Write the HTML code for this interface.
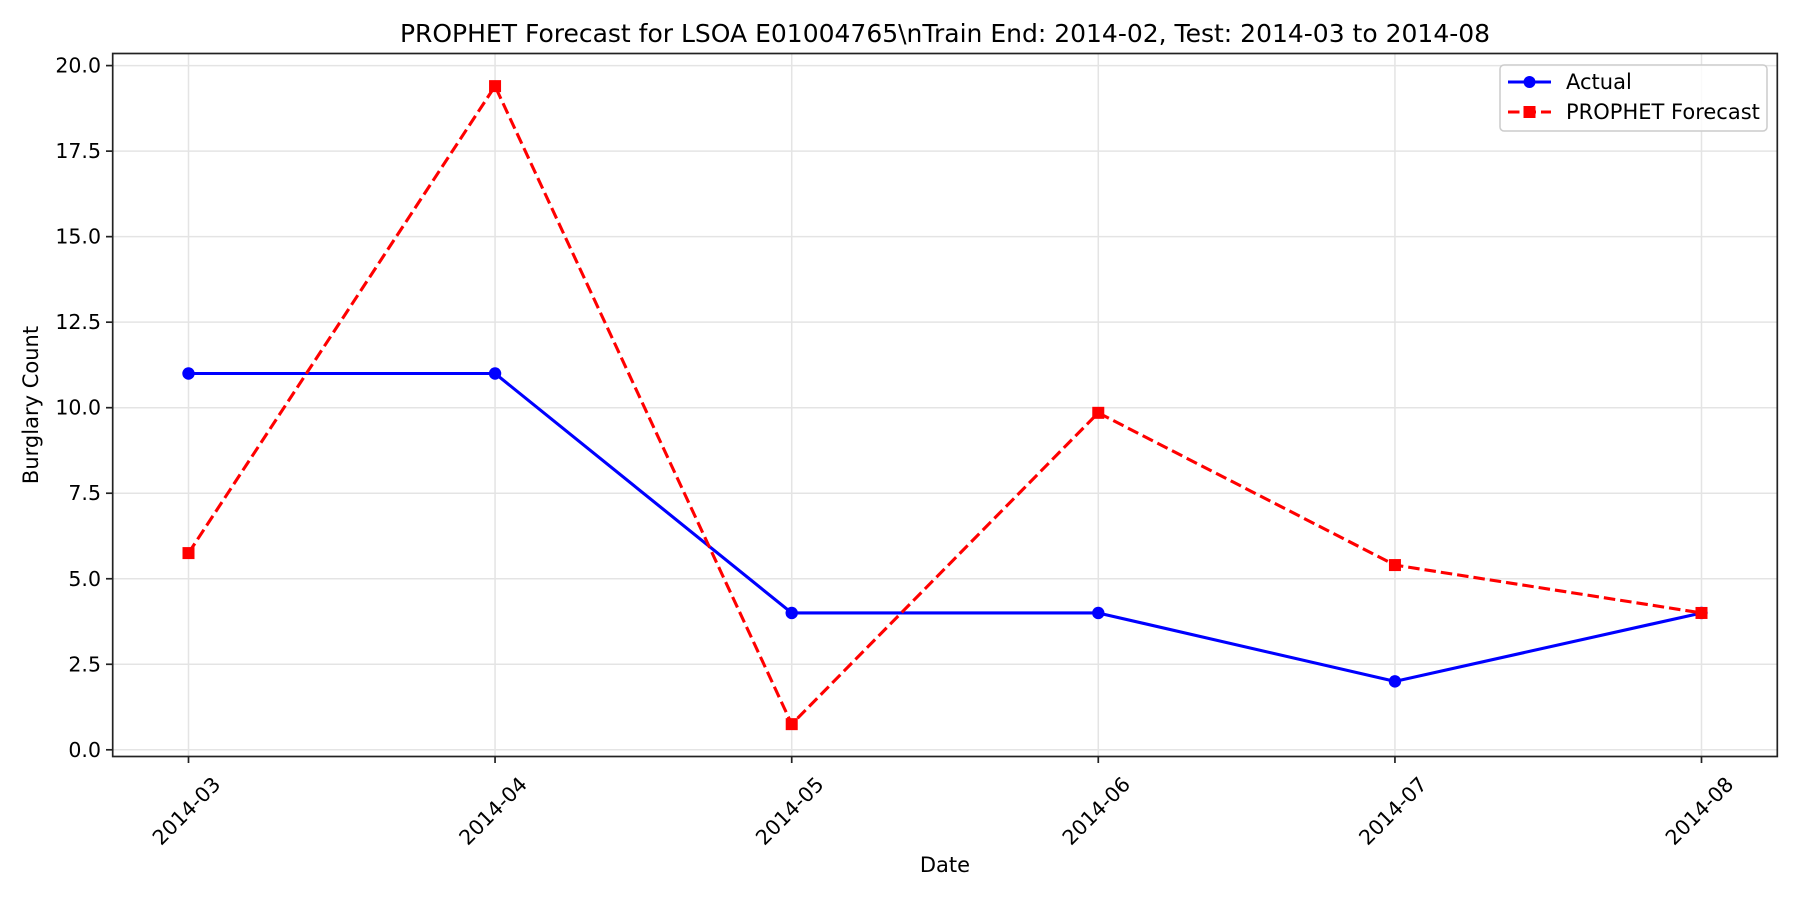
<!DOCTYPE html>
<html><head><meta charset="utf-8"><style>
html,body{margin:0;padding:0;background:#fff;}
svg{display:block;font-family:"DejaVu Sans","Liberation Sans",sans-serif;}
</style></head><body>
<svg id="chart" width="1800" height="900" xmlns="http://www.w3.org/2000/svg">
<rect x="0" y="0" width="1800" height="900" fill="#fff"/>
<text x="945" y="42" font-size="25" text-anchor="middle" fill="#000">PROPHET Forecast for LSOA E01004765\nTrain End: 2014-02, Test: 2014-03 to 2014-08</text>
<g id="grid"></g>
<g id="ticks"></g>
<g id="series"></g>
<rect x="112.7" y="53.5" width="1664.6" height="703" fill="none" stroke="#222" stroke-width="1.7"/>
<text x="945" y="872" font-size="21" text-anchor="middle" fill="#000">Date</text>
<text transform="translate(38,405) rotate(-90)" font-size="21" text-anchor="middle" fill="#000">Burglary Count</text>
<g>
<rect x="1500" y="65" width="267" height="66" rx="4" fill="#fff" fill-opacity="0.8" stroke="#ccc" stroke-width="1.5"/>
<g>
<line x1="1508" y1="82" x2="1551" y2="82" stroke="#0000ff" stroke-width="3.1"/>
<circle cx="1529.5" cy="82" r="6" fill="#0000ff"/>
<text x="1566" y="89" font-size="21" fill="#000">Actual</text>
</g>
<g>
<line x1="1508" y1="112" x2="1551" y2="112" stroke="#ff0000" stroke-width="3.1" stroke-dasharray="11.5,5"/>
<rect x="1523.5" y="106" width="12" height="12" fill="#ff0000"/>
<text x="1566" y="119" font-size="21" fill="#000">PROPHET Forecast</text>
</g>
</g>
</svg>
<script>
const categories = ["2014-03","2014-04","2014-05","2014-06","2014-07","2014-08"];
const dayOffsets = [0, 31, 61, 92, 122, 153];
const actualValues = [11, 11, 4, 4, 2, 4];
const forecastValues = [5.75, 19.4, 0.75, 9.85, 5.4, 4.0];
const yTicks = [0, 2.5, 5, 7.5, 10, 12.5, 15, 17.5, 20];
const yTickLabels = ["0.0","2.5","5.0","7.5","10.0","12.5","15.0","17.5","20.0"];

const NS = "http://www.w3.org/2000/svg";
const X0 = 188.5, X1 = 1701.5, Y0 = 749.8, Y20 = 65.6;
function xScale(d){ return X0 + (d - dayOffsets[0]) / (dayOffsets[dayOffsets.length-1] - dayOffsets[0]) * (X1 - X0); }
function yScale(v){ return Y0 + (v / 20) * (Y20 - Y0); }
function mk(tag, attrs, parent){ const e = document.createElementNS(NS, tag); for (const k in attrs) e.setAttribute(k, attrs[k]); parent.appendChild(e); return e; }

const grid = document.getElementById('grid');
const ticks = document.getElementById('ticks');
const series = document.getElementById('series');

yTicks.forEach((v, i) => {
  const y = yScale(v);
  const g = mk('line', {x1:112.7, x2:1777.3, y1:y, y2:y, stroke:'#e4e4e4', 'stroke-width':1.5}, grid);
  
  
  const t = mk('line', {x1:106, x2:112.7, y1:y, y2:y, stroke:'#222', 'stroke-width':1.7}, ticks);
  
  
  const l = mk('text', {x:101, y:y+7, 'font-size':20.5, 'text-anchor':'end', fill:'#000'}, ticks);
  l.textContent = yTickLabels[i];
  
  
});

categories.forEach((c, i) => {
  const x = xScale(dayOffsets[i]);
  const g = mk('line', {x1:x, x2:x, y1:53.5, y2:756.5, stroke:'#e4e4e4', 'stroke-width':1.5}, grid);
  
  
  const t = mk('line', {x1:x, x2:x, y1:756.5, y2:763, stroke:'#222', 'stroke-width':1.7}, ticks);
  
  
  const l = mk('text', {transform:`translate(${x-2},${811}) rotate(-45)`, 'font-size':20.5, 'text-anchor':'middle', 'dominant-baseline':'central', fill:'#000'}, ticks);
  l.textContent = c;
  
  
});

function pts(vals){ return vals.map((v,i)=>xScale(dayOffsets[i])+','+yScale(v)).join(' '); }

const la = mk('polyline', {points:pts(actualValues), fill:'none', stroke:'#0000ff', 'stroke-width':3.1, 'stroke-linejoin':'round'}, series);


actualValues.forEach((v,i)=>{
  const c = mk('circle', {cx:xScale(dayOffsets[i]), cy:yScale(v), r:6.2, fill:'#0000ff'}, series);
  
  
});

const lf = mk('polyline', {points:pts(forecastValues), fill:'none', stroke:'#ff0000', 'stroke-width':3.1, 'stroke-dasharray':'11.5,5'}, series);


forecastValues.forEach((v,i)=>{
  const r = mk('rect', {x:xScale(dayOffsets[i])-6, y:yScale(v)-6, width:12, height:12, fill:'#ff0000'}, series);
  
  
});
</script>
</body></html>
